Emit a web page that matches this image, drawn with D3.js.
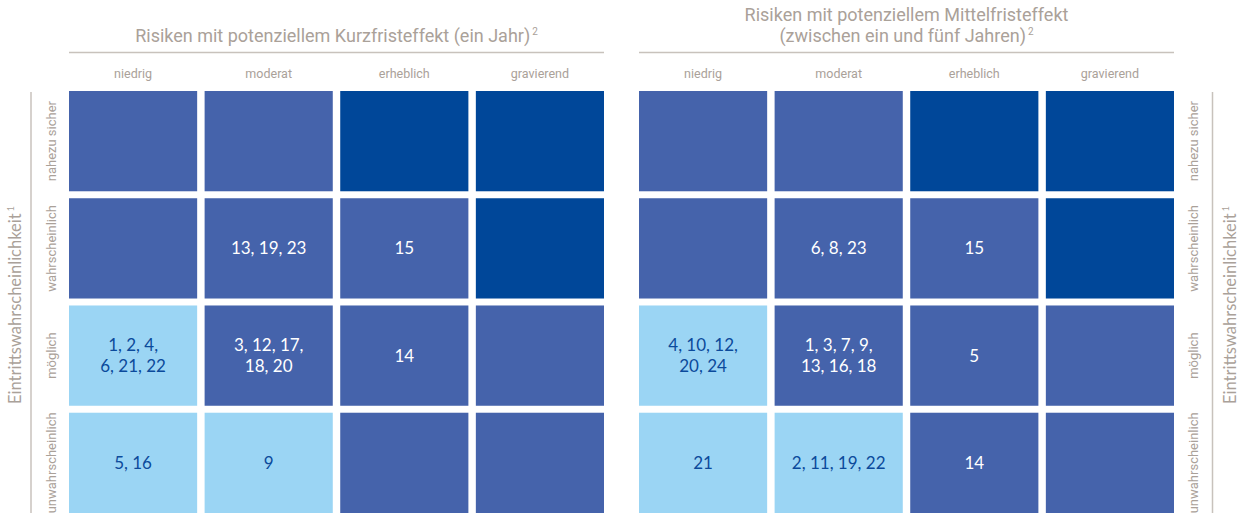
<!DOCTYPE html>
<html>
<head>
<meta charset="utf-8">
<script src="https://cdn.jsdelivr.net/npm/d3@7"></script>
<style>
  html, body { margin: 0; padding: 0; background: #fff; }
  svg { display: block; }
</style>
</head>
<body>
<svg id="chart" width="1241" height="515"></svg>
<script>
// ---- data ----
const impactLevels = ["niedrig", "moderat", "erheblich", "gravierend"];
const likelihoodLevels = ["nahezu sicher", "wahrscheinlich", "möglich", "unwahrscheinlich"];
const panelTitles = [
  ["Risiken mit potenziellem Kurzfristeffekt (ein Jahr)"],
  ["Risiken mit potenziellem Mittelfristeffekt", "(zwischen ein und fünf Jahren)"]
];
const axisLabel = "Eintrittswahrscheinlichkeit";
// severity class per cell (rows = likelihood, cols = impact): 0 light, 1 medium, 2 dark
const severityShort = [
  [1, 1, 2, 2],
  [1, 1, 1, 2],
  [0, 1, 1, 1],
  [0, 0, 1, 1]
];
const severityMid = [
  [1, 1, 2, 2],
  [1, 1, 1, 2],
  [0, 1, 1, 1],
  [0, 0, 1, 1]
];
// risk numbers per cell (lines separated by |)
const risksShort = [
  ["", "", "", ""],
  ["", "13, 19, 23", "15", ""],
  ["1, 2, 4,|6, 21, 22", "3, 12, 17,|18, 20", "14", ""],
  ["5, 16", "9", "", ""]
];
const risksMid = [
  ["", "", "", ""],
  ["", "6, 8, 23", "15", ""],
  ["4, 10, 12,|20, 24", "1, 3, 7, 9,|13, 16, 18", "5", ""],
  ["21", "2, 11, 19, 22", "14", ""]
];

// ---- styles ----
const fillColors = ["#9bd5f4", "#4563ab", "#004799"];
const textColors = ["#0b4a9b", "#ffffff", "#ffffff"];
const gray = "#aaa199";
const labelFont = "'Liberation Sans Narrow', 'Roboto', 'Liberation Sans', sans-serif";
const numFont = "'Lato', 'Open Sans', sans-serif";

const svg = d3.select("#chart");

const y = d3.scaleBand().domain(likelihoodLevels).range([91, 513]).paddingInner(0.065).paddingOuter(0);

const panels = [
  { x0: 69, x1: 604, titles: panelTitles[0], sev: severityShort, risks: risksShort },
  { x0: 639, x1: 1174, titles: panelTitles[1], sev: severityMid, risks: risksMid }
];

panels.forEach((p, pi) => {
  const x = d3.scaleBand().domain(impactLevels).range([p.x0, p.x1]).paddingInner(0.055).paddingOuter(0);
  const g = svg.append("g");
  const cx = (p.x0 + p.x1) / 2;

  // title
  const nT = p.titles.length;
  p.titles.forEach((t, i) => {
    const tx = g.append("text")
      .attr("x", cx)
      .attr("y", 42 - (nT - 1 - i) * 21)
      .attr("text-anchor", "middle")
      .attr("fill", gray)
      .style("font-family", labelFont)
      .style("font-size", "18px")
      .text(t);
    if (i === nT - 1) {
      tx.append("tspan").attr("dx", 2).attr("dy", -7).style("font-size", "10px").text("2");
    }
  });
  g.append("line")
    .attr("x1", p.x0).attr("x2", p.x1)
    .attr("y1", 52.5).attr("y2", 52.5)
    .attr("stroke", "#c8c2bc").attr("stroke-width", 1.5);

  // column labels
  g.selectAll(".col").data(impactLevels).join("text")
    .attr("x", d => x(d) + x.bandwidth() / 2)
    .attr("y", 78)
    .attr("text-anchor", "middle")
    .attr("fill", gray)
    .style("font-family", labelFont)
    .style("font-size", "12.5px")
    .text(d => d);

  // cells
  const cells = [];
  likelihoodLevels.forEach((r, ri) => impactLevels.forEach((c, ci) => {
    cells.push({ r, c, s: p.sev[ri][ci], t: p.risks[ri][ci] });
  }));
  g.selectAll("rect.cell").data(cells).join("rect")
    .attr("class", "cell")
    .attr("x", d => x(d.c))
    .attr("y", d => y(d.r))
    .attr("width", x.bandwidth())
    .attr("height", y.bandwidth())
    .attr("fill", d => fillColors[d.s]);

  cells.filter(d => d.t).forEach(d => {
    const lines = d.t.split("|");
    const ccx = x(d.c) + x.bandwidth() / 2;
    const ccy = y(d.r) + y.bandwidth() / 2;
    lines.forEach((ln, li) => {
      g.append("text")
        .attr("x", ccx)
        .attr("y", ccy + (li - (lines.length - 1) / 2) * 21)
        .attr("dy", "0.35em")
        .attr("text-anchor", "middle")
        .attr("fill", textColors[d.s])
        .style("font-family", numFont)
        .style("font-size", "17px")
        .text(ln);
    });
  });

  // row labels
  const rlx = pi === 0 ? 56 : 1198;
  g.selectAll(".row").data(likelihoodLevels).join("text")
    .attr("transform", d => `translate(${rlx},${y(d) + y.bandwidth() / 2}) rotate(-90)`)
    .attr("text-anchor", "middle")
    .attr("fill", gray)
    .style("font-family", labelFont)
    .style("font-size", "13px")
    .text(d => d);

  // vertical axis line and label
  const lx = pi === 0 ? 31 : 1212.5;
  g.append("line")
    .attr("x1", lx).attr("x2", lx)
    .attr("y1", 92).attr("y2", 513)
    .attr("stroke", "#c8c2bc").attr("stroke-width", 1.5);
  const alx = pi === 0 ? 21 : 1236;
  const at = g.append("text")
    .attr("transform", `translate(${alx},305) rotate(-90)`)
    .attr("text-anchor", "middle")
    .attr("fill", gray)
    .style("font-family", numFont)
    .style("font-size", "16.5px")
    .text(axisLabel);
  at.append("tspan").attr("dx", 2).attr("dy", -7).style("font-size", "9px").text("1");
});
</script>
</body>
</html>
